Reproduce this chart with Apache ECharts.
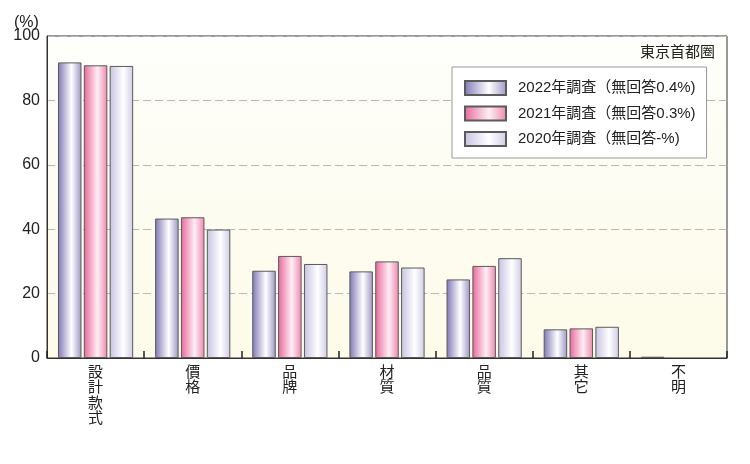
<!DOCTYPE html>
<html>
<head>
<meta charset="utf-8">
<script src="https://cdn.jsdelivr.net/npm/echarts@6/dist/echarts.min.js"></script>
<style>html,body{margin:0;padding:0;background:#fff;}#c{width:750px;height:464px;}</style>
</head>
<body>
<div id="c"></div>
<script>
const categories = ['設計款式', '價格', '品牌', '材質', '品質', '其它', '不明'];
const seriesNames = ['2022年調査（無回答0.4%)', '2021年調査（無回答0.3%)', '2020年調査（無回答-%)'];
const values2022 = [91.8, 43.3, 27.1, 26.9, 24.4, 8.9, 0.4];
const values2021 = [90.9, 43.7, 31.7, 30.0, 28.6, 9.2, null];
const values2020 = [90.7, 39.9, 29.2, 28.1, 31.0, 9.7, null];
const yTicks = [0, 20, 40, 60, 80, 100];

const FONT = '"Liberation Sans", "Noto Sans CJK JP", sans-serif';
function grad(edgeL, mid, edgeR) {
  return new echarts.graphic.LinearGradient(0, 0, 1, 0, [
    {offset: 0, color: edgeL},
    {offset: 0.58, color: mid},
    {offset: 1, color: edgeR}
  ]);
}
const colors = [
  grad('#7f77b6', '#ffffff', '#9c95c8'),
  grad('#e9669a', '#fdeef4', '#ee87ae'),
  grad('#c6c2e2', '#ffffff', '#d0cce7')
];
const dataSets = [values2022, values2021, values2020];

const chart = echarts.init(document.getElementById('c'), null, {renderer: 'canvas'});
chart.setOption({
  animation: false,
  backgroundColor: '#ffffff',
  textStyle: {fontFamily: FONT},
  grid: {
    left: 47, right: 23, top: 36, bottom: 106,
    show: true,
    borderColor: '#333',
    borderWidth: 1,
    backgroundColor: new echarts.graphic.LinearGradient(0, 0, 0, 1, [
      {offset: 0, color: '#fefefb'},
      {offset: 1, color: '#fdfbe8'}
    ])
  },
  legend: {
    orient: 'vertical',
    left: 452, top: 67,
    padding: [13, 11, 11, 12],
    backgroundColor: '#ffffff',
    borderColor: '#999',
    borderWidth: 1,
    itemWidth: 41, itemHeight: 14, itemGap: 9.5,
    icon: 'rect',
    textStyle: {fontSize: 15, color: '#222', fontFamily: FONT, lineHeight: 15, padding: [0, 0, 0, 7]},
    data: seriesNames
  },
  graphic: [
    {type: 'text', left: 14, top: 15, style: {text: '(%)', fontSize: 16, fill: '#222', fontFamily: FONT}},
    {type: 'text', right: 35, top: 45, style: {text: '東京首都圈', fontSize: 15, fill: '#222', fontFamily: FONT}}
  ],
  xAxis: {
    type: 'category',
    data: categories,
    axisLine: {lineStyle: {color: '#333', width: 1}},
    axisTick: {show: true, inside: true, length: 7, lineStyle: {color: '#222', width: 1.5}},
    axisLabel: {
      interval: 0, margin: 7, fontSize: 15, lineHeight: 15.5, color: '#222', fontFamily: FONT,
      formatter: v => v.split('').join('\n')
    }
  },
  yAxis: {
    type: 'value',
    min: 0, max: 100, interval: 20,
    axisLine: {show: true, lineStyle: {color: '#333'}},
    axisTick: {show: false},
    axisLabel: {
      fontSize: 16, color: '#222', margin: 7, fontFamily: FONT,
      formatter: v => yTicks.includes(v) ? String(v) : ''
    },
    splitLine: {show: true, lineStyle: {color: '#b8b8b8', type: [8, 4], width: 1}}
  },
  series: seriesNames.map((n, i) => ({
    name: n,
    type: 'bar',
    data: dataSets[i],
    barWidth: 23.5,
    barGap: '10%',
    itemStyle: {color: colors[i], borderColor: '#5a5a5a', borderWidth: 1}
  }))
});
</script>
</body>
</html>
